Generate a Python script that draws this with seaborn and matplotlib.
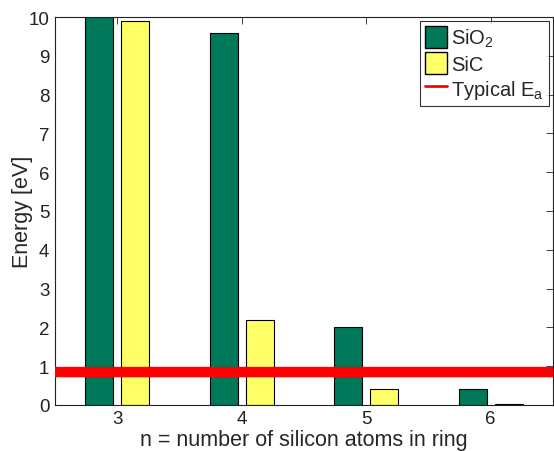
import matplotlib
matplotlib.use("Agg")
import matplotlib.pyplot as plt
import seaborn as sns
import pandas as pd
from matplotlib.lines import Line2D
from matplotlib.patches import Patch

sns.set_theme(style="white")
plt.rcParams['font.family'] = ['Liberation Sans', 'DejaVu Sans']
plt.rcParams['mathtext.default'] = 'regular'

ring_sizes = ["3", "4", "5", "6"]
sio2 = [10.0, 9.6, 2.0, 0.4]
sic = [9.9, 2.2, 0.4, 0.03]
typical_ea = 0.85
series_names = ["SiO$_2$", "SiC"]
colors = ["#00785A", "#FFFF66"]

df = pd.DataFrame({
    "n": ring_sizes * 2,
    "energy": sio2 + sic,
    "material": [series_names[0]] * 4 + [series_names[1]] * 4,
})

fig = plt.figure(figsize=(5.54, 4.52), dpi=100)
ax = fig.add_axes([0.0993, 0.102, 0.8987, 0.858])

sns.barplot(data=df, x="n", y="energy", hue="material", palette=colors,
            width=0.576, gap=0.22, edgecolor="black", linewidth=0.8,
            ax=ax, legend=False, saturation=1)
ax.axhline(typical_ea, color="red", linewidth=7.5, zorder=5)

ax.set_xlim(-0.5, 3.5)
ax.set_ylim(0, 10)
ax.set_yticks(range(0, 11))
ax.set_xlabel("n = number of silicon atoms in ring", fontsize=15.5, labelpad=1)
ax.set_ylabel("Energy [eV]", fontsize=15.5, labelpad=-3)
ax.tick_params(direction="in", top=True, right=True, length=5, width=0.6,
               labelsize=13.5, colors="#222222", labelcolor="#222222", pad=4)
for s in ax.spines.values():
    s.set_color("#222222")
    s.set_linewidth(0.8)

handles = [Patch(facecolor=colors[0], edgecolor="black", label=series_names[0]),
           Patch(facecolor=colors[1], edgecolor="black", label=series_names[1]),
           Line2D([0], [0], color="red", linewidth=2, label="Typical E$_a$")]
leg = ax.legend(handles=handles, loc="upper right", fontsize=14.5, frameon=True,
                fancybox=False, edgecolor="black", borderaxespad=0.2,
                handlelength=1.1, handleheight=1.3, handletextpad=0.2,
                borderpad=0.25, labelspacing=0.15)
leg.get_frame().set_linewidth(0.8)

fig.savefig("out.png", dpi=100)
